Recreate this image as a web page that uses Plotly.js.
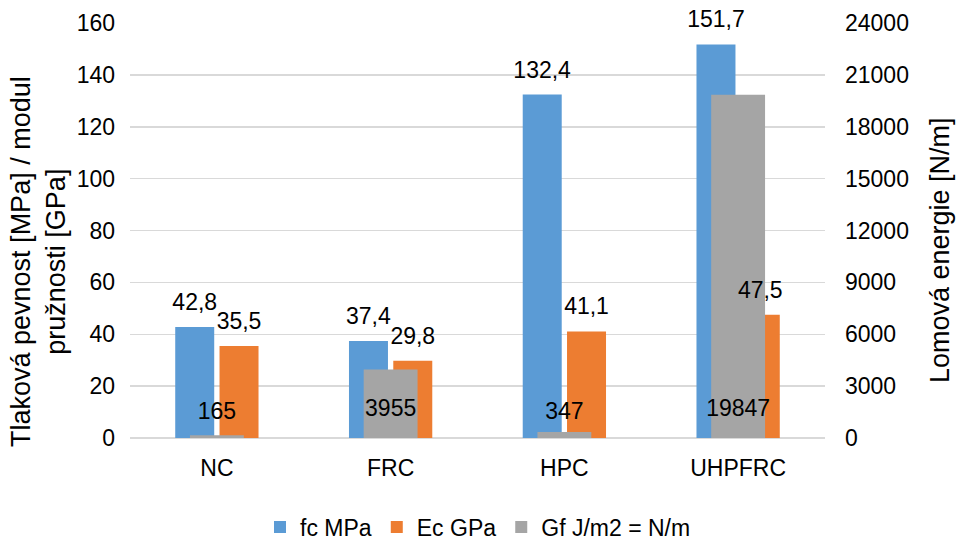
<!DOCTYPE html>
<html><head><meta charset="utf-8">
<script src="https://cdn.plot.ly/plotly-3.0.1.min.js"></script>
<style>html,body{margin:0;padding:0;background:#fff}#c{width:956px;height:540px}</style>
</head><body><div id="c"></div>
<script>
var categories = ['NC', 'FRC', 'HPC', 'UHPFRC'];
var fcMPa = [42.8, 37.4, 132.4, 151.7];
var EcGPa = [35.5, 29.8, 41.1, 47.5];
var GfNm = [165, 3955, 347, 19847];
var seriesNames = ['fc MPa', 'Ec GPa', 'Gf J/m2 = N/m'];
var yTitle = 'Tlaková pevnost [MPa] / modul<br>pružnosti [GPa]';
var y2Title = 'Lomová energie [N/m]';

var FONT = 'Liberation Sans, Arial, sans-serif';
var TXT = 23;
var lblFont = {family: FONT, size: TXT, color: '#000'};
var BLUE = '#5B9BD5', ORANGE = '#ED7D31', GRAY = '#A5A5A5';
var GRAY_W = 0.31;

var traces = [
  // visible bars
  {type: 'bar', name: seriesNames[0], x: categories, y: fcMPa,
   marker: {color: BLUE}, hoverinfo: 'skip'},
  {type: 'bar', name: seriesNames[1], x: categories, y: EcGPa,
   marker: {color: ORANGE}, hoverinfo: 'skip'},
  {type: 'bar', name: seriesNames[2], x: categories, y: GfNm, yaxis: 'y2',
   width: GRAY_W, marker: {color: GRAY}, hoverinfo: 'skip'},
  // label layers (transparent bars drawn above the secondary-axis bars)
  {type: 'bar', x: categories, y: fcMPa, yaxis: 'y3', showlegend: false,
   marker: {color: 'rgba(0,0,0,0)'}, texttemplate: '%{y:.1f}', textposition: 'outside',
   outsidetextfont: lblFont, constraintext: 'none', cliponaxis: false, hoverinfo: 'skip'},
  {type: 'bar', x: categories, y: EcGPa, yaxis: 'y3', showlegend: false,
   marker: {color: 'rgba(0,0,0,0)'}, texttemplate: '%{y:.1f}', textposition: 'outside',
   outsidetextfont: lblFont, constraintext: 'none', cliponaxis: false, hoverinfo: 'skip'},
  {type: 'bar', x: categories, y: GfNm, yaxis: 'y4', showlegend: false, width: GRAY_W,
   marker: {color: 'rgba(0,0,0,0)'}, texttemplate: '%{y:.0f}',
   textposition: 'inside', insidetextanchor: 'start', constraintext: 'none', textangle: 0,
   insidetextfont: lblFont, cliponaxis: false, hoverinfo: 'skip'}
];

var tickFont = {family: FONT, size: TXT, color: '#000'};
var titleFont = {family: FONT, size: 27, color: '#000'};

var layout = {
  width: 956, height: 540,
  margin: {l: 130, r: 131, t: 23, b: 102},
  paper_bgcolor: '#fff', plot_bgcolor: '#fff',
  separators: ', ',
  font: {family: FONT, size: TXT, color: '#000'},
  barmode: 'group', bargap: 0.49, bargroupgap: 0.12,
  showlegend: true,
  legend: {orientation: 'h', x: 0.5, xanchor: 'center', xref: 'container',
           y: 0.024, yanchor: 'middle', yref: 'container',
           font: {family: FONT, size: TXT, color: '#000'}, traceorder: 'normal', itemwidth: 30},
  xaxis: {type: 'category', showgrid: false, showline: false, zeroline: false, automargin: false,
          ticks: '', tickfont: tickFont, ticklabelstandoff: 14},
  yaxis: {range: [0, 160], dtick: 20, tick0: 0, showgrid: true, gridcolor: '#D9D9D9', gridwidth: 1.5,
          zeroline: true, zerolinecolor: '#D9D9D9', zerolinewidth: 1.5, showline: false, ticks: '',
          automargin: false, tickfont: tickFont, ticklabelstandoff: 14},
  yaxis2: {range: [0, 24000], dtick: 3000, tick0: 0, overlaying: 'y', side: 'right',
           showgrid: false, zeroline: false, showline: false, ticks: '', tickformat: 'd',
           automargin: false, tickfont: tickFont, ticklabelstandoff: 19},
  // label layers: same scales, lifted so the labels sit where the reference puts them
  yaxis3: {range: [-3.5, 156.5], overlaying: 'y', visible: false, showgrid: false, zeroline: false, fixedrange: true},
  yaxis4: {range: [-810, 23190], overlaying: 'y', visible: false, showgrid: false, zeroline: false, fixedrange: true},
  annotations: [
    {text: yTitle, xref: 'paper', yref: 'paper', x: -0.1324, y: 0.4265, xanchor: 'center', yanchor: 'middle',
     textangle: -90, showarrow: false, font: titleFont},
    {text: y2Title, xref: 'paper', yref: 'paper', x: 1.1655, y: 0.453, xanchor: 'center', yanchor: 'middle',
     textangle: -90, showarrow: false, font: titleFont}
  ]
};

Plotly.newPlot('c', traces, layout, {displayModeBar: false, staticPlot: true});
</script>
</body></html>
